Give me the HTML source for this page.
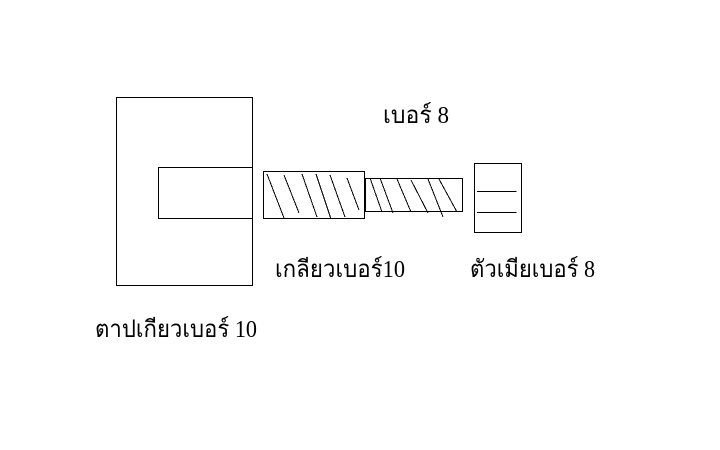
<!DOCTYPE html>
<html lang="th">
<head>
<meta charset="utf-8">
<title>Diagram</title>
<style>
html,body{margin:0;padding:0;background:#fff;width:720px;height:450px;overflow:hidden}
svg{display:block}
text{font-family:"Liberation Serif","Noto Serif CJK SC","Noto Sans CJK SC",serif;font-size:24px;fill:#000}
</style>
</head>
<body>
<svg width="720" height="450" viewBox="0 0 720 450" xmlns="http://www.w3.org/2000/svg">
<rect width="720" height="450" fill="#fff"/>
<g fill="none" stroke="#000" stroke-width="1" shape-rendering="crispEdges">
<rect x="116.5" y="97.5" width="136" height="188"/>
<rect x="158.5" y="167.5" width="94" height="51"/>
<rect x="263.5" y="171.5" width="101" height="47"/>
<rect x="365.5" y="178.5" width="97" height="33"/>
<rect x="474.5" y="163.5" width="47" height="69"/>
<path d="M477 191.5H516.5M477 212.5H516.5"/>
<path d="M267 174L284 218M284 175L299 213M302 174L317 217M316 174L331 219M330 175L345 217M347 178L359 210"/>
<path d="M370 178L382 212M380 178L393 213M397 179L411 212M411 180L428 213M428 179L443 217M439 179L457 212"/>
</g>
<text x="383" y="123" textLength="66" lengthAdjust="spacingAndGlyphs">เบอร์ 8</text>
<text x="275" y="277" textLength="130" lengthAdjust="spacingAndGlyphs">เกลียวเบอร์10</text>
<text x="470" y="277" textLength="125" lengthAdjust="spacingAndGlyphs">ตัวเมียเบอร์ 8</text>
<text x="95" y="337" textLength="162" lengthAdjust="spacingAndGlyphs">ตาปเกียวเบอร์ 10</text>
</svg>
</body>
</html>
